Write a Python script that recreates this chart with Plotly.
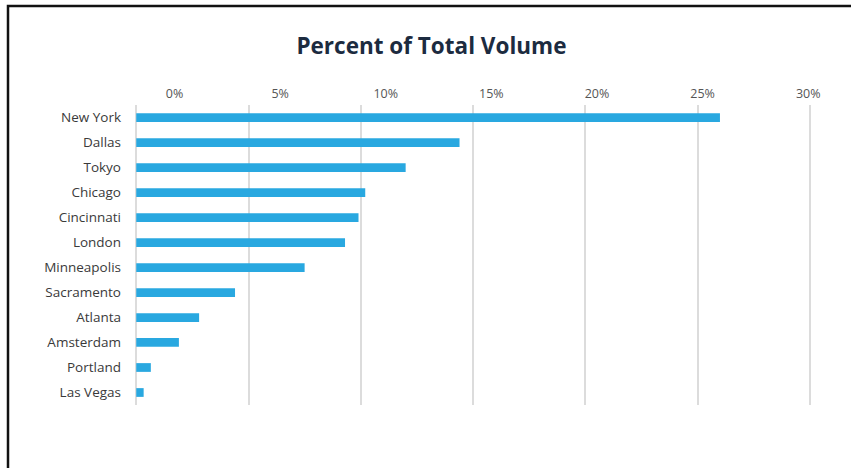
import plotly.graph_objects as go

cities = ["New York", "Dallas", "Tokyo", "Chicago", "Cincinnati", "London",
          "Minneapolis", "Sacramento", "Atlanta", "Amsterdam", "Portland", "Las Vegas"]
share = [26.0, 14.4, 12.0, 10.2, 9.9, 9.3, 7.5, 4.4, 2.8, 1.9, 0.65, 0.33]
tick_vals = [0, 5, 10, 15, 20, 25, 30]
tick_text = ["0%", "5%", "10%", "15%", "20%", "25%", "30%"]

W, H = 851, 468
ML, MR, MT, MB = 134, 39, 105, 63
PW, PH = W - ML - MR, H - MT - MB

FONT = "Open Sans"

fig = go.Figure()
fig.add_trace(go.Bar(
    x=share, y=cities, orientation="h",
    marker=dict(color="#29a8e0", line=dict(width=0)),
    width=0.35, hoverinfo="x+y",
))
# invisible companion trace so the top label axis is drawn
fig.add_trace(go.Scatter(
    x=share, y=cities, xaxis="x2", mode="markers",
    marker=dict(opacity=0), hoverinfo="skip", showlegend=False,
))

# frame lines (left and top edges of the picture frame)
x_left = (8 - ML) / PW
x_right = (W + 5 - ML) / PW
y_top = (H - MB - 6) / PH
y_bot = (H - MB - (H + 5)) / PH
fig.add_shape(type="path", xref="paper", yref="paper",
              path=f"M {x_left} {y_bot} L {x_left} {y_top} L {x_right} {y_top}",
              line=dict(color="#111111", width=2.5))

fig.update_layout(
    width=W, height=H,
    margin=dict(l=ML, r=MR, t=MT, b=MB),
    paper_bgcolor="white", plot_bgcolor="white",
    showlegend=False,
    title=dict(text="<b>Percent of Total Volume</b>", x=0.507, xanchor="center",
               y=1 - 46 / H, yanchor="middle",
               font=dict(family=FONT, size=22.5, color="#1c2b40")),
    xaxis=dict(range=[-0.1, 30.1], tickvals=tick_vals, showticklabels=False,
               showgrid=True, gridcolor="#dcdcdc", gridwidth=1.5,
               zeroline=False, showline=False, fixedrange=True),
    xaxis2=dict(overlaying="x", side="top", anchor="y",
                range=[-1.92, 30.18], tickvals=tick_vals, ticktext=tick_text,
                showgrid=False, zeroline=False, showline=False,
                ticks="", ticklabelstandoff=4, fixedrange=True,
                tickfont=dict(family=FONT, size=12.5, color="#555555")),
    yaxis=dict(range=[11.5, -0.5], autorange=False, showgrid=False, zeroline=False,
               showline=False, ticks="", ticklabelstandoff=12, fixedrange=True,
               tickfont=dict(family=FONT, size=13.5, color="#3a3a3a")),
)

fig.write_html("out.html", config={"displayModeBar": False},
               post_script="document.body.style.margin='0';")
